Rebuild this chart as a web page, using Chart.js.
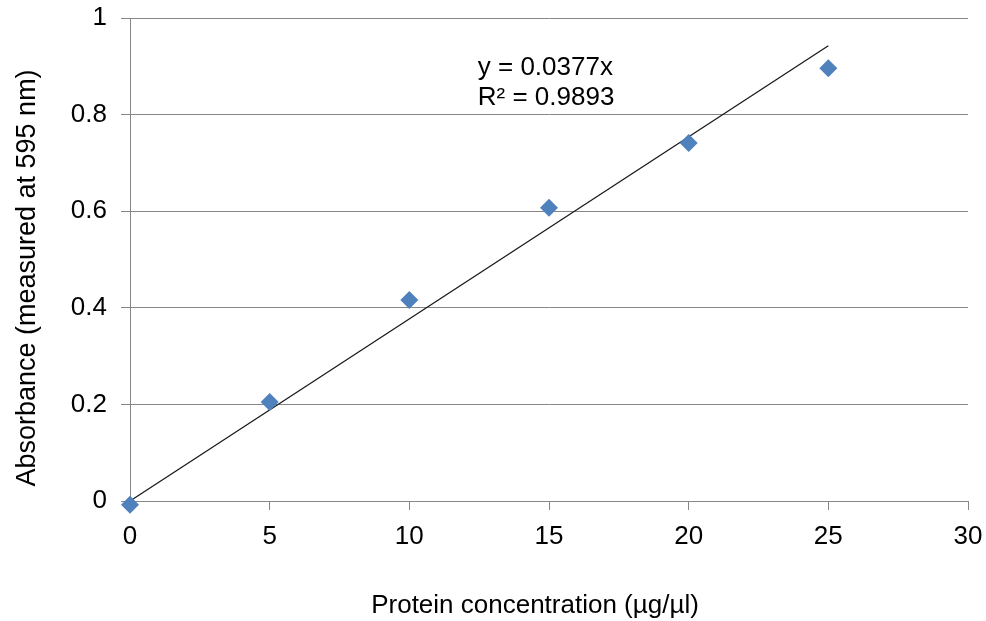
<!DOCTYPE html>
<html>
<head>
<meta charset="utf-8">
<script src="https://cdn.jsdelivr.net/npm/chart.js@4/dist/chart.umd.min.js"></script>
<style>
    body { margin: 0; background: #fff; }
    canvas { display: block; }
</style>
</head>
<body>
<canvas id="myChart" width="986" height="621"></canvas>
<script>
const concentration = [0, 5, 10, 15, 20, 25];
const absorbance = [-0.008, 0.205, 0.416, 0.607, 0.741, 0.896];

// linear trendline through the origin (end points as drawn)
const trendX = [0, 25];
const trendY = [0, 0.9425];

const equationLines = ['y = 0.0377x', 'R\u00b2 = 0.9893'];
const xTitle = 'Protein concentration (\u00b5g/\u00b5l)';
const yTitle = 'Absorbance (measured at 595 nm)';

const gridGray = '#878787';
const fontFamily = '"Liberation Sans", Arial, sans-serif';
const textFont = { family: fontFamily, size: 26 };

// trendline equation and the two axis titles
const chartText = {
    id: 'chartText',
    afterDraw(chart) {
        const ctx = chart.ctx;
        const area = chart.chartArea;
        const x = chart.scales.x.getPixelForValue(12.45);
        const y = chart.scales.y.getPixelForValue(0.882);
        ctx.save();
        ctx.fillStyle = '#000';
        ctx.font = '26px ' + fontFamily;
        ctx.textAlign = 'left';
        ctx.textBaseline = 'alphabetic';
        equationLines.forEach((line, i) => {
            ctx.fillText(line, x, y + i * 30);
        });

        ctx.textAlign = 'center';
        ctx.fillText(xTitle, area.left + 405, 613);

        ctx.font = '27px ' + fontFamily;
        ctx.translate(35, area.top + 260);
        ctx.rotate(-Math.PI / 2);
        ctx.fillText(yTitle, 0, 0);
        ctx.restore();
    }
};

const ctx = document.getElementById('myChart').getContext('2d');

new Chart(ctx, {
    type: 'scatter',
    data: {
        datasets: [
            {
                label: 'Absorbance',
                data: concentration.map((x, i) => ({ x: x, y: absorbance[i] })),
                pointStyle: 'rectRot',
                pointRadius: 9,
                pointHoverRadius: 9,
                backgroundColor: '#4F81BD',
                borderColor: '#4F81BD',
                borderWidth: 0,
                clip: false
            },
            {
                label: 'Linear',
                data: trendX.map((x, i) => ({ x: x, y: trendY[i] })),
                showLine: true,
                pointRadius: 0,
                borderColor: '#1a1a1a',
                borderWidth: 1.3,
                clip: false
            }
        ]
    },
    options: {
        responsive: false,
        animation: false,
        layout: { padding: { left: 0, top: 18, right: 18, bottom: 0 } },
        plugins: {
            legend: { display: false },
            tooltip: { enabled: false }
        },
        scales: {
            x: {
                type: 'linear',
                min: 0,
                max: 30,
                afterFit(scale) {
                    scale.height = 120;
                    scale.paddingLeft = 0;
                    scale.paddingRight = 0;
                },
                ticks: { stepSize: 5, color: '#000', font: textFont, padding: 11 },
                grid: { drawOnChartArea: false, drawTicks: true, tickLength: 9, color: gridGray },
                border: { display: true, color: gridGray }
            },
            y: {
                min: 0,
                max: 1,
                afterFit(scale) {
                    scale.width = 130;
                    scale.paddingTop = 0;
                    scale.paddingBottom = 0;
                },
                ticks: {
                    stepSize: 0.2,
                    color: '#000',
                    font: textFont,
                    padding: 14,
                    callback: value => String(Math.round(value * 10) / 10)
                },
                grid: { color: gridGray, tickLength: 9 },
                border: { display: true, color: gridGray }
            }
        }
    },
    plugins: [chartText]
});
</script>
</body>
</html>
